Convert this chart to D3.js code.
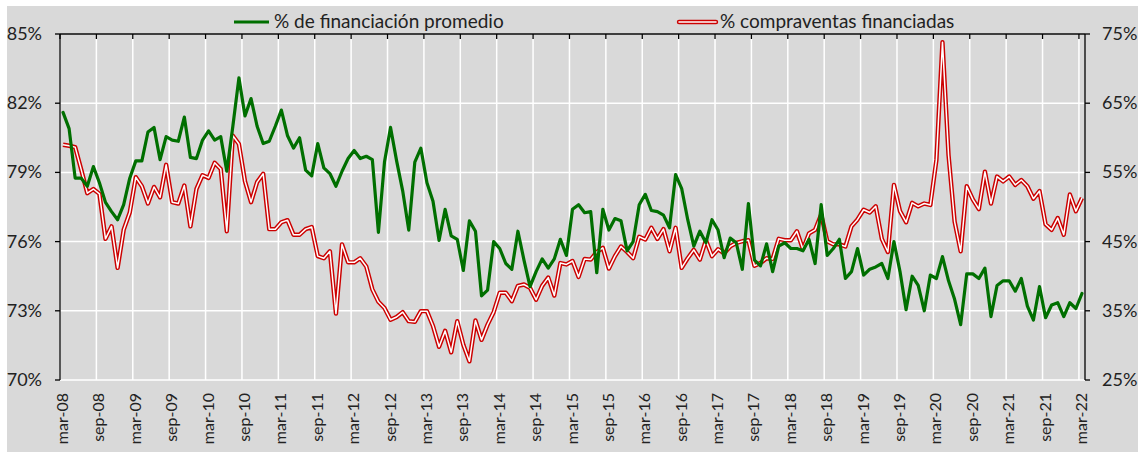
<!DOCTYPE html>
<html>
<head>
<meta charset="utf-8">
<script src="https://cdn.jsdelivr.net/npm/d3@7"></script>
<style>
  body { margin: 0; background: #fff; }
  text { font-family: Lato, "Open Sans", sans-serif; fill: #222; }
</style>
</head>
<body>
<script>
// Month labels, mar-08 to mar-22
var monthNames = ["ene", "feb", "mar", "abr", "may", "jun", "jul", "ago", "sep", "oct", "nov", "dic"];
var months = [];
for (var i = 0; i < 169; i++) {
    var m = (2 + i) % 12, yr = 8 + Math.floor((2 + i) / 12);
    months.push(monthNames[m] + "-" + (yr < 10 ? "0" + yr : yr));
}

// % de financiación promedio (left axis)
var financiacion = [
    81.6, 80.9, 78.75, 78.75, 78.4, 79.25, 78.55, 77.7, 77.3, 76.95, 77.6, 78.75,
    79.5, 79.5, 80.75, 80.95, 79.55, 80.55, 80.4, 80.35, 81.4, 79.65, 79.6, 80.4,
    80.8, 80.4, 80.55, 79.05, 81.0, 83.1, 81.45, 82.2, 81.0, 80.25, 80.35, 81.0,
    81.7, 80.6, 80.05, 80.5, 79.1, 78.85, 80.25, 79.2, 78.95, 78.4, 79.05, 79.6,
    79.95, 79.6, 79.7, 79.55, 76.4, 79.45, 80.95, 79.5, 78.2, 76.5, 79.45, 80.05,
    78.55, 77.75, 76.05, 77.4, 76.25, 76.1, 74.75, 76.9, 76.45, 73.65, 73.9, 76.0,
    75.7, 75.05, 74.8, 76.45, 75.2, 74.05, 74.7, 75.25, 74.85, 75.25, 76.1, 75.4,
    77.4, 77.6, 77.25, 77.3, 74.65, 77.4, 76.5, 77.0, 76.9, 75.6, 76.0, 77.6,
    78.05, 77.35, 77.3, 77.15, 76.6, 78.9, 78.3, 76.95, 75.8, 76.45, 75.95, 76.95,
    76.5, 75.3, 76.15, 75.95, 74.8, 77.65, 75.2, 74.95, 75.9, 74.7, 75.8, 75.95,
    75.7, 75.7, 75.6, 76.1, 75.05, 77.6, 75.4, 75.7, 76.1, 74.4, 74.7, 75.7,
    74.55, 74.8, 74.9, 75.05, 74.4, 76.0, 74.7, 73.05, 74.5, 74.1, 73.0, 74.55,
    74.4, 75.35, 74.3, 73.5, 72.4, 74.6, 74.6, 74.4, 74.85, 72.75, 74.1, 74.3,
    74.3, 73.85, 74.4, 73.2, 72.6, 74.05, 72.7, 73.25, 73.35, 72.75, 73.35, 73.1,
    73.75
];

// % compraventas financiadas (right axis)
var compraventas = [
    59.0, 58.85, 58.65, 55.4, 52.0, 52.6, 51.9, 45.4, 47.2, 41.2, 46.7, 49.2,
    54.3, 53.0, 50.5, 52.9, 51.4, 56.1, 50.7, 50.5, 53.1, 47.2, 52.6, 54.6,
    54.2, 56.4, 55.5, 46.5, 60.3, 59.1, 53.7, 50.7, 53.6, 54.8, 46.8, 46.8,
    47.8, 48.1, 46.0, 46.0, 46.8, 47.1, 42.9, 42.6, 43.6, 34.6, 44.6, 42.0,
    42.0, 42.6, 41.4, 38.1, 36.3, 35.4, 33.7, 34.1, 34.8, 33.5, 33.4, 34.95,
    34.95, 32.8, 29.8, 32.1, 29.0, 33.5, 30.1, 27.7, 33.6, 30.8, 33.0, 34.8,
    37.6, 37.6, 36.4, 38.6, 38.8, 38.3, 36.6, 38.6, 39.8, 37.2, 41.9, 41.7,
    42.2, 39.9, 42.5, 42.4, 43.5, 44.1, 41.1, 42.9, 44.3, 43.5, 42.6, 45.7,
    45.3, 47.0, 45.4, 46.8, 43.6, 47.0, 41.2, 42.6, 43.8, 42.4, 45.2, 42.9,
    43.9, 43.3, 44.3, 44.8, 45.05, 45.2, 41.5, 41.9, 42.6, 42.5, 45.4, 45.2,
    45.2, 46.5, 43.9, 46.2, 46.7, 48.9, 45.05, 44.6, 44.6, 44.3, 47.2, 48.2,
    49.6, 49.2, 50.1, 45.4, 43.5, 53.2, 49.4, 47.8, 50.6, 50.1, 50.5, 50.3,
    56.8, 73.8, 57.5, 47.9, 43.6, 53.0, 51.1, 49.7, 55.1, 50.5, 54.4, 53.7,
    54.4, 53.2, 53.9, 53.0, 51.2, 52.3, 47.5, 46.7, 48.4, 46.0, 51.8, 49.4,
    51.3
];

var leftTicks = [70, 73, 76, 79, 82, 85];
var rightTicks = [25, 35, 45, 55, 65, 75];
var seriesNames = ["% de financiación promedio", "% compraventas financiadas"];

var width = 1143, height = 453;
var plotLeft = 60, plotRight = 1085, plotTop = 34, plotBottom = 380;
var green = "#006f00", red = "#cc0000";

var svg = d3.select("body").append("svg")
    .attr("width", width)
    .attr("height", height);

// chart background
svg.append("rect")
    .attr("x", 7).attr("y", 6)
    .attr("width", 1131).attr("height", 446)
    .attr("fill", "#d9d9d9");

var x = d3.scaleBand().domain(months).range([plotLeft, plotRight]);
var yL = d3.scaleLinear().domain([70, 85]).range([plotBottom, plotTop]);
var yR = d3.scaleLinear().domain([25, 75]).range([plotBottom, plotTop]);
var cx = function(d, i) { return x(months[i]) + x.bandwidth() / 2; };

var labelled = months.filter(function(d, i) { return i % 6 === 0; });

// gridlines
svg.append("g").selectAll("line")
    .data(leftTicks)
    .enter().append("line")
    .attr("x1", plotLeft).attr("x2", plotRight)
    .attr("y1", yL).attr("y2", yL)
    .attr("stroke", "#fff").attr("stroke-width", 1.5);

svg.append("g").selectAll("line")
    .data(labelled)
    .enter().append("line")
    .attr("x1", x).attr("x2", x)
    .attr("y1", plotTop).attr("y2", plotBottom)
    .attr("stroke", "#fff").attr("stroke-width", 1.5);

// axes
var axisG = svg.append("g").attr("stroke", "#000").attr("stroke-width", 1.3);
axisG.append("line").attr("x1", plotLeft).attr("x2", plotRight).attr("y1", plotTop).attr("y2", plotTop);
axisG.append("line").attr("x1", plotLeft).attr("x2", plotLeft).attr("y1", plotTop).attr("y2", plotBottom);
axisG.append("line").attr("x1", plotRight).attr("x2", plotRight).attr("y1", plotTop).attr("y2", plotBottom);
axisG.selectAll(".tx").data(labelled).enter().append("line")
    .attr("x1", x).attr("x2", x).attr("y1", plotTop).attr("y2", plotTop + 5);
axisG.selectAll(".tl").data(leftTicks).enter().append("line")
    .attr("x1", plotLeft - 5).attr("x2", plotLeft).attr("y1", yL).attr("y2", yL);
axisG.selectAll(".tr").data(rightTicks).enter().append("line")
    .attr("x1", plotRight).attr("x2", plotRight + 5).attr("y1", yR).attr("y2", yR);

// tick labels
svg.append("g").selectAll("text")
    .data(leftTicks)
    .enter().append("text")
    .attr("x", 42).attr("y", function(d) { return yL(d) + 6; })
    .attr("text-anchor", "end")
    .style("font-size", "18px")
    .text(function(d) { return d + "%"; });

svg.append("g").selectAll("text")
    .data(rightTicks)
    .enter().append("text")
    .attr("x", 1102).attr("y", function(d) { return yR(d) + 6; })
    .style("font-size", "18px")
    .text(function(d) { return d + "%"; });

svg.append("g").selectAll("text")
    .data(labelled)
    .enter().append("text")
    .attr("transform", function(d) {
        return "translate(" + (x(d) + x.bandwidth() / 2 + 5) + ",393) rotate(-90)";
    })
    .attr("text-anchor", "end")
    .style("font-size", "16px")
    .text(function(d) { return d; });

// lines
var lineL = d3.line().x(cx).y(function(d) { return yL(d); });
var lineR = d3.line().x(cx).y(function(d) { return yR(d); });

svg.append("path").datum(compraventas)
    .attr("d", lineR).attr("fill", "none")
    .attr("stroke", red).attr("stroke-width", 4.4).attr("stroke-linejoin", "round");
svg.append("path").datum(compraventas)
    .attr("d", lineR).attr("fill", "none")
    .attr("stroke", "#fff").attr("stroke-width", 1.5).attr("stroke-linejoin", "round");

svg.append("path").datum(financiacion)
    .attr("d", lineL).attr("fill", "none")
    .attr("stroke", green).attr("stroke-width", 3.2)
    .attr("stroke-linejoin", "round").attr("stroke-linecap", "round");

// legend
svg.append("line").attr("x1", 234).attr("x2", 269).attr("y1", 22).attr("y2", 22)
    .attr("stroke", green).attr("stroke-width", 3.2);
svg.append("text").attr("x", 274).attr("y", 28)
    .style("font-size", "19px").text(seriesNames[0]);

svg.append("line").attr("x1", 679).attr("x2", 716).attr("y1", 22).attr("y2", 22)
    .attr("stroke", red).attr("stroke-width", 4.4).attr("stroke-linecap", "round");
svg.append("line").attr("x1", 679).attr("x2", 716).attr("y1", 22).attr("y2", 22)
    .attr("stroke", "#fff").attr("stroke-width", 1.5).attr("stroke-linecap", "round");
svg.append("text").attr("x", 720).attr("y", 28)
    .style("font-size", "19px").text(seriesNames[1]);
</script>
</body>
</html>
